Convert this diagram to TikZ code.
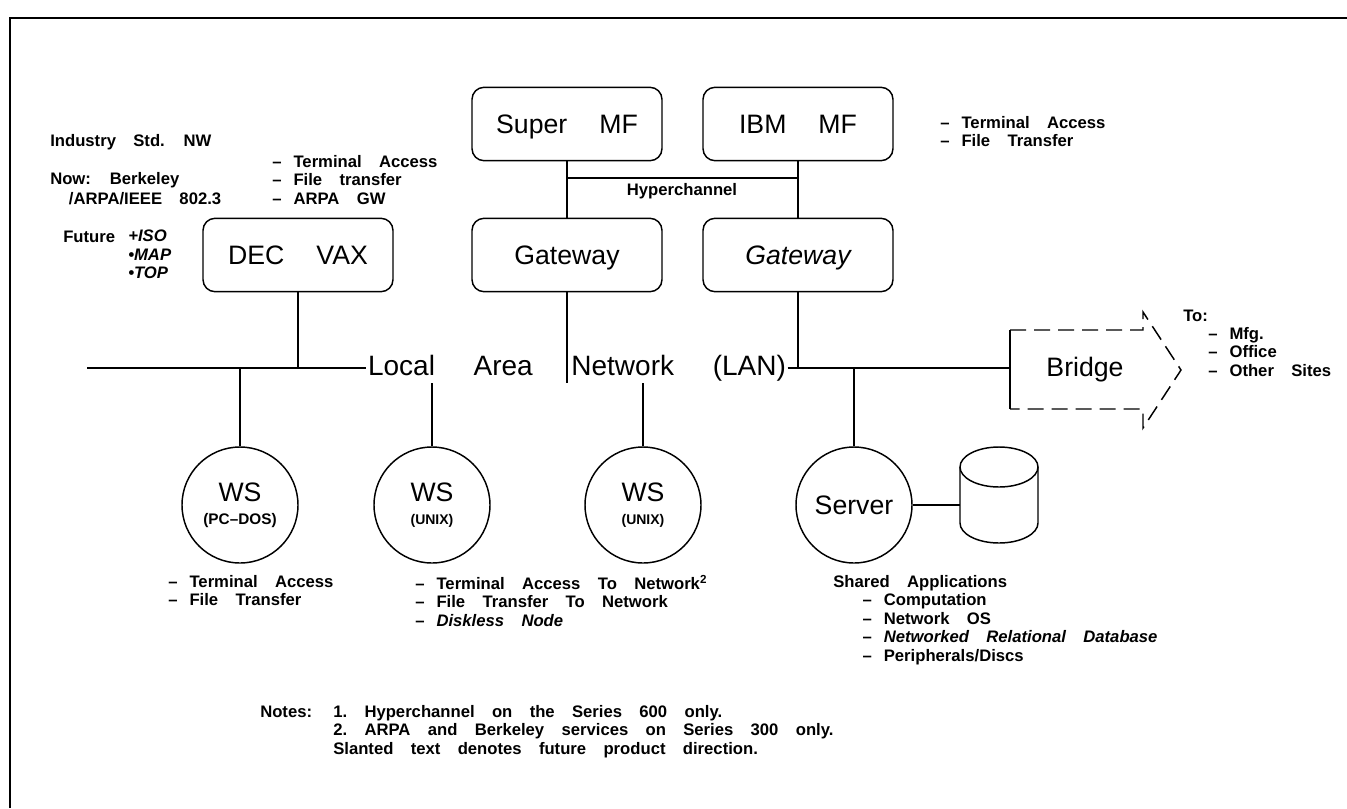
\documentclass[tikz,border=0pt]{standalone}
\usepackage{fontspec}
\setmainfont{Liberation Sans}
\newcommand\dashitem{\textendash\hspace{9pt}}
\newcommand\unitfont{\fontsize{20}{24}\selectfont\spaceskip=24pt\relax}
\newcommand\lanfont{\fontsize{21}{24}\selectfont\spaceskip=29pt\relax}
\newcommand\remarkfont{\bfseries\fontsize{12.5}{13.9}\selectfont\spaceskip=13pt\relax}
\tikzset{unit/.style={draw,line width=1.1pt,rounded corners=9pt,minimum width=142.5pt,minimum height=55pt,inner sep=0pt,text height=14.5pt,text depth=1pt,font=\unitfont},station/.style={draw,circle,line width=1.1pt,minimum size=87pt,inner sep=0pt,align=center,font=\fontsize{20}{18}\selectfont},wire/.style={line width=1.1pt},remark/.style={anchor=north west,inner sep=0pt,align=left,font=\remarkfont},tag/.style={anchor=west,inner sep=0pt,font=\remarkfont}}

\begin{document}
\begin{tikzpicture}[x=0.75pt,y=-0.75pt]
\path[use as bounding box] (0,0) rectangle (1347,808);
\draw[line width=1.4pt] (10,808) -- (10,18) -- (1347,18);
% hosts
\node[unit] (supermf) at (567,124) {Super MF};
\node[unit] (ibmmf) at (798,124) {IBM MF};
\node[unit] (decvax) at (298,255) {DEC VAX};
\node[unit] (gwa) at (567,255) {Gateway};
\node[unit] (gwb) at (798,255) {\itshape Gateway};
\coordinate (hypa) at (567,178);
\coordinate (hypb) at (798,178);
\draw[wire] (hypa) -- (hypb);
\draw[wire] (supermf) -- (gwa);
\draw[wire] (ibmmf) -- (gwb);
\node[inner sep=0pt,font=\bfseries\fontsize{12.5}{14}\selectfont] (hyplabel) at (682,191) {Hyperchannel};
% LAN
\coordinate (lanstart) at (87,368);
\coordinate (bridgein) at (1010,368);
\node[inner sep=1pt,font=\lanfont] (lan) at (577,368) {Local Area Network (LAN)};
\draw[wire] (lanstart) -- (lan.west);
\draw[wire] (lan.east) -- (bridgein);
\draw[wire] (decvax) -- (decvax |- lanstart);
\draw[wire] (gwa) -- (gwa |- lan.south);
\draw[wire] (gwb) -- (gwb |- lanstart);
% bridge
\node[inner sep=0pt,font=\fontsize{20}{24}\selectfont] (bridge) at (1085,370) {Bridge};
\draw[wire] (1010,330) -- (1010,409);
\draw[wire,dash pattern=on 12pt off 6pt] (1010,330) -- (1143,330) -- (1143,312) -- (1181,370) -- (1143,428) -- (1143,409) -- (1010,409);
% stations
\node[station] (wsa) at (240,505) {WS\\[-1pt]{\bfseries\fontsize{11.5}{12}\selectfont(PC\textendash DOS)}};
\node[station] (wsb) at (432,505) {WS\\[-1pt]{\bfseries\fontsize{10.5}{12}\selectfont(UNIX)}};
\node[station] (wsc) at (643,505) {WS\\[-1pt]{\bfseries\fontsize{10.5}{12}\selectfont(UNIX)}};
\node[station] (server) at (854,505) {Server};
\draw[wire] (wsa) -- (wsa |- lanstart);
\draw[wire] (wsb) -- (wsb |- lan.south);
\draw[wire] (wsc) -- (wsc |- lan.south);
\draw[wire] (server) -- (server |- lanstart);
\coordinate (disc) at (960,505);
\draw[wire] (960,467) -- (960,523) arc[start angle=180,end angle=0,x radius=39,y radius=20] -- (1038,467);
\draw[wire] (999,467) ellipse[x radius=39,y radius=20];
\draw[wire] (server.east) -- (disc);
% remarks
\node[tag] (stdnw) at (50,142) {Industry Std. NW};
\node[remark] (now) at (50,172) {Now: Berkeley\\[1pt]\hspace*{14pt}/ARPA/IEEE 802.3};
\node[tag] (future) at (63,237) {Future};
\node[remark] (futurelist) at (128,230) {\itshape +ISO\\\itshape\textbullet MAP\\\itshape\textbullet TOP};
\node[remark] (declist) at (272,155) {\dashitem Terminal Access\\\dashitem File transfer\\\dashitem ARPA GW};
\node[remark] (ibmlist) at (940,116) {\dashitem Terminal Access\\\dashitem File Transfer};
\node[tag] (to) at (1183,316) {To:};
\node[remark] (bridgelist) at (1208,327) {\dashitem Mfg.\\\dashitem Office\\\dashitem Other Sites};
\node[remark] (wsalist) at (168,575) {\dashitem Terminal Access\\\dashitem File Transfer};
\node[remark] (wsblist) at (415,575) {\dashitem Terminal Access To Network\textsuperscript{2}\\\dashitem File Transfer To Network\\\dashitem\itshape Diskless Node};
\node[remark] (serverlist) at (833,575) {Shared Applications\\\hspace*{22pt}\dashitem Computation\\\hspace*{22pt}\dashitem Network OS\\\hspace*{22pt}\dashitem\itshape Networked Relational Database\\\hspace*{22pt}\dashitem Peripherals/Discs};
\node[tag] (notes) at (260,712) {Notes:};
\node[remark] (notelist) at (333,705) {1.\ Hyperchannel on the Series 600 only.\\2.\ ARPA and Berkeley services on Series 300 only.\\Slanted text denotes future product direction.};
\end{tikzpicture}
\end{document}
